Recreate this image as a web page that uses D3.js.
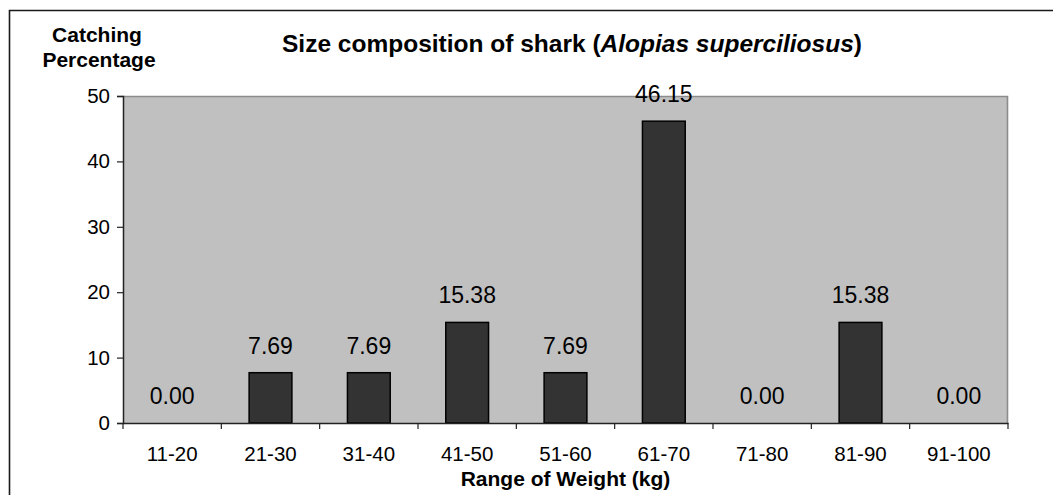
<!DOCTYPE html>
<html>
<head>
<meta charset="utf-8">
<script src="https://cdn.jsdelivr.net/npm/d3@7"></script>
<style>
  html, body { margin: 0; padding: 0; background: #fff; }
  svg { display: block; font-family: Arial, "Liberation Sans", sans-serif; }
</style>
</head>
<body>
<svg id="chart" width="1053" height="495"></svg>
<script>
// Weight classes (kg) and share of catch (%)
const categories = ["11-20", "21-30", "31-40", "41-50", "51-60", "61-70", "71-80", "81-90", "91-100"];
const percentages = [0.00, 7.69, 7.69, 15.38, 7.69, 46.15, 0.00, 15.38, 0.00];
const yTicks = [0, 10, 20, 30, 40, 50];

const svg = d3.select("#chart");
const plot = { left: 123, right: 1008, top: 96, bottom: 423 };

// Outer frame (top and left edges)
svg.append("path")
  .attr("d", `M9.5,495 L9.5,10.5 L1053,10.5`)
  .attr("fill", "none").attr("stroke", "#1a1a1a").attr("stroke-width", 1.6);

const x = d3.scaleBand().domain(categories).range([plot.left, plot.right]).padding(0);
const xBar = d3.scaleBand().domain(categories).range([plot.left, plot.right])
  .paddingInner(0.565).paddingOuter(0.2825);
const y = d3.scaleLinear().domain([0, 50]).range([plot.bottom, plot.top]);

// Plot background
svg.append("rect")
  .attr("x", plot.left).attr("y", plot.top)
  .attr("width", plot.right - plot.left).attr("height", plot.bottom - plot.top)
  .attr("fill", "#c0c0c0");
svg.append("path")
  .attr("d", `M${plot.left},${plot.top + 0.5} L${plot.right - 0.5},${plot.top + 0.5} L${plot.right - 0.5},${plot.bottom}`)
  .attr("fill", "none").attr("stroke", "#8c8c8c").attr("stroke-width", 1.6);

// Bars
svg.append("g").selectAll("rect").data(categories).join("rect")
  .attr("x", (d) => xBar(d))
  .attr("width", xBar.bandwidth())
  .attr("y", (d, i) => y(percentages[i]))
  .attr("height", (d, i) => y(0) - y(percentages[i]))
  .attr("fill", "#333333")
  .attr("stroke", "#000")
  .attr("stroke-width", 1.5);

// Y axis
const yAxis = svg.append("g").attr("transform", `translate(${plot.left},0)`)
  .call(d3.axisLeft(y).tickValues(yTicks).tickSize(6).tickPadding(7).tickFormat(d3.format("d")));
yAxis.select(".domain").attr("stroke", "#222").attr("stroke-width", 1.5);
yAxis.selectAll(".tick line").attr("stroke", "#222").attr("stroke-width", 1.2);
yAxis.selectAll(".tick text").attr("font-size", 20.5).attr("fill", "#000")
  .attr("font-family", "Arial, 'Liberation Sans', sans-serif");

// X axis: labels centred in each class, ticks on class boundaries
const xAxis = svg.append("g").attr("transform", `translate(0,${plot.bottom})`)
  .call(d3.axisBottom(x).tickSize(0).tickPadding(23));
xAxis.select(".domain").attr("stroke", "#222").attr("stroke-width", 1.5);
xAxis.selectAll(".tick text").attr("font-size", 20.5).attr("fill", "#000")
  .attr("font-family", "Arial, 'Liberation Sans', sans-serif");
const boundaries = categories.map((c) => x(c)).concat([x.range()[1]]);
svg.append("g").selectAll("line").data(boundaries).join("line")
  .attr("x1", (d) => d).attr("x2", (d) => d)
  .attr("y1", plot.bottom).attr("y2", plot.bottom + 6)
  .attr("stroke", "#222").attr("stroke-width", 1.2);

// Value labels above bars
svg.append("g").selectAll("text").data(categories).join("text")
  .attr("x", (d) => x(d) + x.bandwidth() / 2)
  .attr("y", (d, i) => y(percentages[i]) - 19)
  .attr("text-anchor", "middle")
  .attr("font-size", 23)
  .attr("fill", "#000")
  .text((d, i) => d3.format(".2f")(percentages[i]));

// Chart title
const title = svg.append("text")
  .attr("x", 572).attr("y", 52)
  .attr("text-anchor", "middle")
  .attr("font-size", 24.5).attr("font-weight", "bold").attr("fill", "#000");
title.append("tspan").text("Size composition of shark (");
title.append("tspan").attr("font-style", "italic").text("Alopias superciliosus");
title.append("tspan").text(")");

// Y axis title
const yTitle = svg.append("text")
  .attr("text-anchor", "middle")
  .attr("font-size", 21).attr("font-weight", "bold").attr("fill", "#000");
yTitle.append("tspan").attr("x", 97).attr("y", 42).text("Catching");
yTitle.append("tspan").attr("x", 99).attr("y", 67).text("Percentage");

// X axis title
svg.append("text")
  .attr("x", (plot.left + plot.right) / 2).attr("y", 486)
  .attr("text-anchor", "middle")
  .attr("font-size", 21).attr("font-weight", "bold").attr("fill", "#000")
  .text("Range of Weight (kg)");
</script>
</body>
</html>
